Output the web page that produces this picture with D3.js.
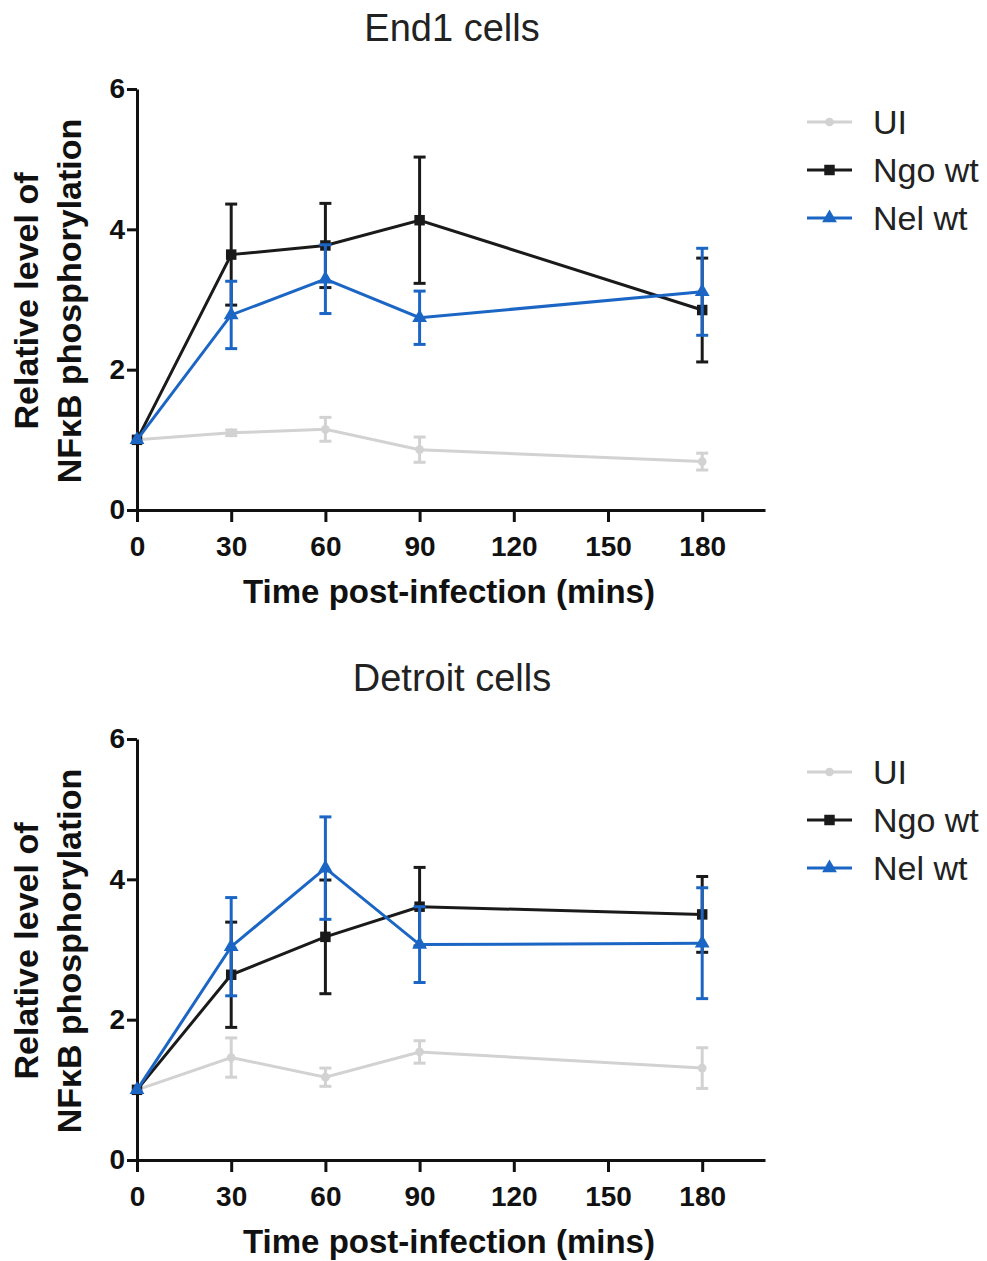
<!DOCTYPE html>
<html>
<head>
<meta charset="utf-8">
<script src="https://cdn.jsdelivr.net/npm/d3@7"></script>
<style>
  body { margin: 0; background: #fff; }
  text { font-family: "Liberation Sans", Arial, sans-serif; }
</style>
</head>
<body>
<div id="chart"></div>
<script>
// time points (mins) and axis ticks
const times = [0, 30, 60, 90, 180];
const xTicks = [0, 30, 60, 90, 120, 150, 180];
const yTicks = [0, 2, 4, 6];
const seriesNames = ["UI", "Ngo wt", "Nel wt"];

// End1 cells: means and error (+/-)
const end1UI = [1.0, 1.10, 1.15, 0.86, 0.69];
const end1UIErr = [0, 0.04, 0.17, 0.18, 0.12];
const end1Ngo = [1.0, 3.64, 3.77, 4.13, 2.85];
const end1NgoErr = [0, 0.72, 0.60, 0.90, 0.74];
const end1Nel = [1.0, 2.78, 3.29, 2.74, 3.11];
const end1NelErr = [0, 0.48, 0.49, 0.38, 0.62];

// Detroit cells
const detUI = [1.0, 1.46, 1.18, 1.54, 1.31];
const detUIErr = [0, 0.28, 0.13, 0.16, 0.29];
const detNgo = [1.0, 2.64, 3.18, 3.61, 3.50];
const detNgoErr = [0, 0.75, 0.81, 0.56, 0.54];
const detNel = [1.0, 3.04, 4.16, 3.07, 3.09];
const detNelErr = [0, 0.70, 0.73, 0.54, 0.79];

const colors = ["#d2d2d2", "#1a1a1a", "#1b66c4"];
const symbols = [d3.symbolCircle, d3.symbolSquare, d3.symbolTriangle];
const symbolSizes = [60, 110, 95];

const width = 987, height = 1261;
const svg = d3.select("#chart").append("svg")
    .attr("width", width)
    .attr("height", height);

const x = d3.scaleLinear().domain([0, 200]).range([137, 765]);

function drawPanel(top, title, means, errs) {
    const y = d3.scaleLinear().domain([0, 6]).range([top + 421, top]);
    const g = svg.append("g");

    // title
    g.append("text")
        .attr("x", 452).attr("y", top - 48)
        .attr("text-anchor", "middle")
        .style("font-size", "38px")
        .style("fill", "#222")
        .text(title);

    // axes
    const xAxis = g.append("g")
        .attr("transform", `translate(0,${top + 421})`)
        .call(d3.axisBottom(x).tickValues(xTicks).tickSize(12).tickSizeOuter(0).tickPadding(14));
    const yAxis = g.append("g")
        .attr("transform", `translate(137,0)`)
        .call(d3.axisLeft(y).tickValues(yTicks).tickFormat(d3.format("d")).tickSize(10).tickSizeOuter(0).tickPadding(2));
    [xAxis, yAxis].forEach(a => {
        a.selectAll("path, line").attr("stroke", "#111").attr("stroke-width", 3);
        a.selectAll("text").style("font-size", "28px").style("font-weight", "bold").attr("fill", "#111");
    });

    // axis titles
    g.append("text")
        .attr("x", 449).attr("y", top + 514)
        .attr("text-anchor", "middle")
        .style("font-size", "33px").style("font-weight", "bold").attr("fill", "#111")
        .text("Time post-infection (mins)");
    const yt = g.append("g").attr("transform", `translate(0,${top + 212}) rotate(-90)`);
    yt.append("text").attr("x", 0).attr("y", 38)
        .attr("text-anchor", "middle")
        .style("font-size", "34px").style("font-weight", "bold").attr("fill", "#111")
        .text("Relative level of");
    yt.append("text").attr("x", 0).attr("y", 81)
        .attr("text-anchor", "middle")
        .style("font-size", "34px").style("font-weight", "bold").attr("fill", "#111")
        .text("NFκB phosphorylation");

    const line = d3.line().x((d, i) => x(times[i])).y(d => y(d));

    means.forEach((vals, s) => {
        const sg = g.append("g");
        const err = errs[s];
        // error bars
        vals.forEach((v, i) => {
            if (!err[i]) return;
            const cx = x(times[i]);
            sg.append("line").attr("x1", cx).attr("x2", cx)
                .attr("y1", y(v - err[i])).attr("y2", y(v + err[i]))
                .attr("stroke", colors[s]).attr("stroke-width", 3);
            [v - err[i], v + err[i]].forEach(e => {
                sg.append("line").attr("x1", cx - 6).attr("x2", cx + 6)
                    .attr("y1", y(e)).attr("y2", y(e))
                    .attr("stroke", colors[s]).attr("stroke-width", 3);
            });
        });
        sg.append("path").datum(vals)
            .attr("d", line)
            .attr("fill", "none")
            .attr("stroke", colors[s])
            .attr("stroke-width", 3);
        sg.selectAll(".pt").data(vals).enter().append("path")
            .attr("transform", (d, i) => `translate(${x(times[i])},${y(d)})`)
            .attr("d", d3.symbol().type(symbols[s]).size(symbolSizes[s]))
            .attr("fill", colors[s]);
    });

    // legend
    seriesNames.forEach((name, s) => {
        const ly = top + 33 + s * 48;
        g.append("line").attr("x1", 807).attr("x2", 852)
            .attr("y1", ly).attr("y2", ly)
            .attr("stroke", colors[s]).attr("stroke-width", 3);
        g.append("path")
            .attr("transform", `translate(829.5,${ly})`)
            .attr("d", d3.symbol().type(symbols[s]).size(symbolSizes[s]))
            .attr("fill", colors[s]);
        g.append("text")
            .attr("x", 873).attr("y", ly)
            .attr("dy", "0.35em")
            .style("font-size", "34px").attr("fill", "#222")
            .text(name);
    });
}

drawPanel(89, "End1 cells", [end1UI, end1Ngo, end1Nel], [end1UIErr, end1NgoErr, end1NelErr]);
drawPanel(739, "Detroit cells", [detUI, detNgo, detNel], [detUIErr, detNgoErr, detNelErr]);
</script>
</body>
</html>
